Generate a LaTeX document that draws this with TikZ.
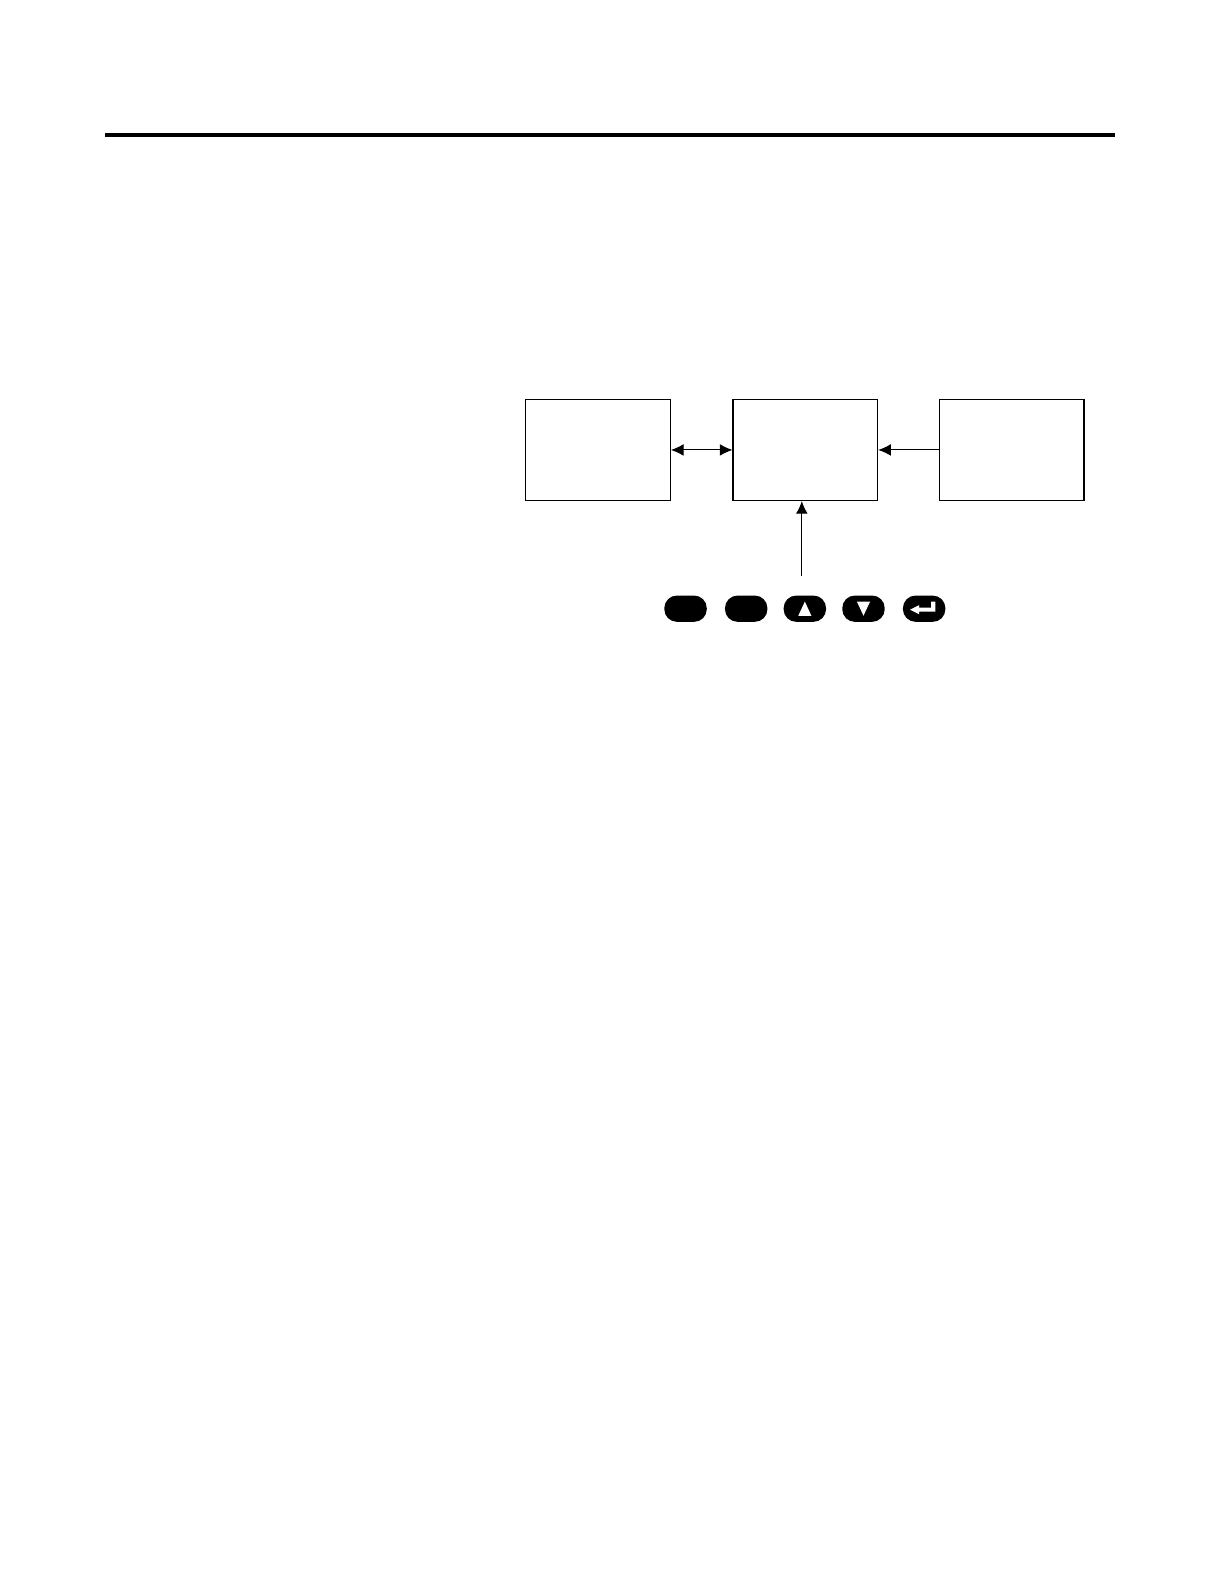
\documentclass[tikz,border=0pt]{standalone}
\usetikzlibrary{arrows.meta,calc}
\begin{document}
\begin{tikzpicture}[x=0.6pt,y=-0.6pt,
  blk/.style={draw,line width=0.7pt,minimum width=143*0.6pt,minimum height=100*0.6pt,inner sep=0pt},
  btn/.style={fill=black,rounded corners=7.5pt,minimum width=42*0.6pt,minimum height=26*0.6pt,inner sep=0pt},
  tip/.style={Latex[length=7.5pt,width=7pt]},
  conn/.style={line width=0.6pt,-{Latex[length=7.5pt,width=7pt]}},
  glyph/.style={fill=white,draw=none}]
\useasboundingbox (0,0) rectangle (1210.5,1566.6);
\fill[black] (104,131.5) rectangle (1103,135.5);
\node[blk] (a) at (591.5,445) {};
\node[blk] (b) at (796.5,445) {};
\node[blk] (c) at (1000.5,445) {};
\node[btn] (k1) at (678,602) {};
\node[btn] (k2) at (738,602) {};
\node[btn] (k3) at (796,602) {};
\node[btn] (k4) at (854,602) {};
\node[btn] (k5) at (914,602) {};
\coordinate (src) at (793,570);
\draw[line width=0.6pt,{Latex[length=7.5pt,width=7pt]}-{Latex[length=7.5pt,width=7pt]}] (a.east) -- (b.west);
\draw[conn] (c.west) -- (b.east);
\draw[conn] (src) -- (src |- b.south);
% glyphs
\fill[glyph] ($(k3)+(-6.5,7)$) -- ($(k3)+(6.5,7)$) -- ($(k3)+(0,-7)$) -- cycle;
\fill[glyph] ($(k4)+(-6.5,-7)$) -- ($(k4)+(6.5,-7)$) -- ($(k4)+(0,7)$) -- cycle;
\fill[glyph] ($(k5)+(-14,1)$) -- ($(k5)+(-5,-3.5)$) -- ($(k5)+(-5,-1)$) -- ($(k5)+(7,-1)$) -- ($(k5)+(7,-7)$) -- ($(k5)+(11,-7)$) -- ($(k5)+(11,3)$) -- ($(k5)+(-5,3)$) -- ($(k5)+(-5,5.5)$) -- cycle;
\end{tikzpicture}
\end{document}
